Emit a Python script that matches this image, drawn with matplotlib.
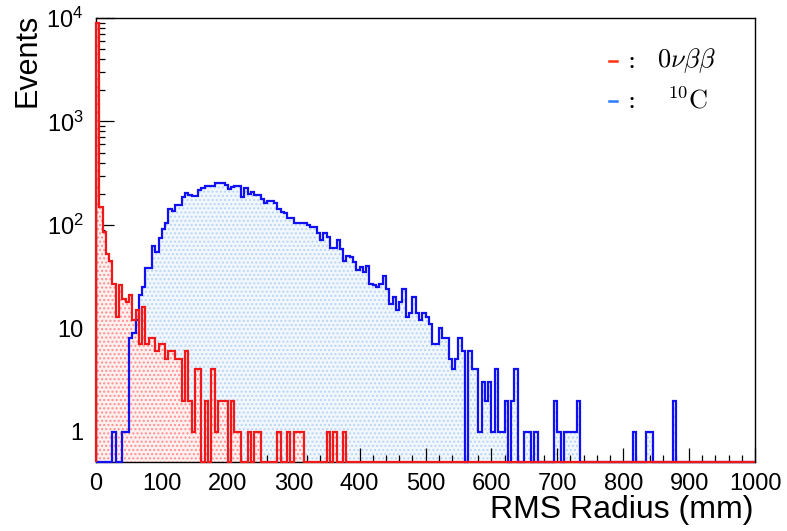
import numpy as np
import matplotlib
matplotlib.use('Agg')
import matplotlib.pyplot as plt
from matplotlib.lines import Line2D
from matplotlib.ticker import FixedLocator, MultipleLocator, LogLocator, NullFormatter

plt.rcParams['font.family'] = ['Liberation Sans', 'DejaVu Sans']

# histogram binning: 5 mm bins from 0 to 1000 mm
bin_width = 5
n_bins = 200
edges = np.arange(0, 1000 + bin_width, bin_width)

# 0vbb counts per bin (zero beyond)
red_counts = [9000, 150, 85, 52, 45, 27, 13, 26, 19, 18,
              21, 12, 15, 7, 16, 7, 8, 8, 6, 7,
              7, 5, 6, 6, 5, 5, 2, 6, 2, 1,
              4, 4, 0, 2, 0, 4, 1, 2, 2, 2,
              0, 2, 1, 1, 0, 0, 1, 0, 1, 1,
              0, 0, 0, 0, 0, 1, 0, 0, 1, 0,
              1, 1, 1, 0, 0, 0, 0, 0, 0, 0,
              1, 0, 1, 0, 0, 1]

# 10C counts per bin
blue_counts = [0, 0, 0, 0, 0, 1, 0, 0, 1, 1,
               8, 9, 12, 21, 25, 38, 38, 62, 55, 75,
               91, 105, 143, 137, 156, 156, 188, 203, 195, 191,
               191, 215, 225, 235, 235, 240, 254, 254, 254, 244,
               220, 232, 240, 240, 185, 227, 200, 206, 195, 195,
               177, 164, 170, 170, 164, 142, 132, 130, 117, 117,
               105, 104, 104, 104, 100, 95, 95, 83, 72, 83,
               77, 60, 60, 72, 58, 45, 50, 49, 44, 37,
               39, 35, 40, 27, 26, 25, 27, 32, 24, 17,
               20, 15, 18, 24, 13, 14, 20, 14, 12, 14,
               13, 11, 7, 7, 10, 8, 8, 5, 4, 5,
               8, 6, 0, 6, 4, 4, 1, 3, 2, 3,
               1, 4, 1, 1, 2, 0, 2, 4, 0, 0,
               1, 1, 0, 1, 0, 0, 0, 0, 0, 2,
               1, 0, 1, 1, 1, 1, 2, 0, 0, 0,
               0, 0, 0, 0, 0, 0, 0, 0, 0, 0,
               0, 0, 0, 1, 0, 0, 0, 1, 1, 0,
               0, 0, 0, 0, 0, 2]

y_ticks = [1, 10, 100, 1000, 10000]
y_tick_labels = ['1', '10', r'$\mathregular{10^{2}}$', r'$\mathregular{10^{3}}$', r'$\mathregular{10^{4}}$']
x_ticks = [0, 100, 200, 300, 400, 500, 600, 700, 800, 900, 1000]

ymin, ymax = 0.51, 10000

def full(counts):
    h = np.zeros(n_bins)
    h[:len(counts)] = counts
    # empty bins sit on the bottom of the log axis, as in ROOT
    return np.where(h > 0, h, ymin)

red = full(red_counts)
blue = full(blue_counts)

fig = plt.figure(figsize=(7.87, 5.31), dpi=100)
ax = fig.add_axes([96/787, 1 - 462/531, (755 - 96)/787, (462 - 18)/531])

# dotted fills
ax.stairs(blue, edges, baseline=ymin, fill=True, facecolor='#f1f7fd',
          edgecolor='#b9d6f5', hatch='....', lw=0, zorder=1)
ax.stairs(red, edges, baseline=ymin, fill=True, facecolor='#fff0f0',
          edgecolor='#ff9090', hatch='....', lw=0, zorder=2)
# outlines (not clipped so the empty bins show along the bottom frame)
ax.stairs(blue, edges, baseline=ymin, color='#1010f0', lw=1.6, zorder=6, clip_on=False)
ax.stairs(red, edges, baseline=ymin, color='#f01818', lw=1.6, zorder=7, clip_on=False)

ax.set_yscale('log')
ax.set_xlim(0, 1000)
ax.set_ylim(ymin, ymax)

ax.xaxis.set_major_locator(FixedLocator(x_ticks))
ax.xaxis.set_minor_locator(MultipleLocator(20))
ax.set_xticklabels([str(t) for t in x_ticks])
ax.yaxis.set_major_locator(FixedLocator(y_ticks))
ax.yaxis.set_minor_locator(LogLocator(base=10, subs=np.arange(2, 10)))
ax.yaxis.set_minor_formatter(NullFormatter())
ax.set_yticklabels(y_tick_labels)

ax.tick_params(axis='both', which='both', direction='in', top=False, right=False,
               width=0.9, colors='black', labelsize=17)
ax.tick_params(axis='x', which='major', length=10, pad=8)
ax.tick_params(axis='x', which='minor', length=5)
ax.tick_params(axis='y', which='major', length=13, pad=9)
ax.tick_params(axis='y', which='minor', length=6.5)
for s in ax.spines.values():
    s.set_linewidth(1.0)
    s.set_zorder(5)

fig.text(753/787, 1 - 510/531, 'RMS Radius (mm)', ha='right', va='center', fontsize=23)
fig.text(27/787, 1 - 14/531, 'Events', rotation=90, ha='center', va='top', fontsize=22)

# legend, ROOT TLatex style
fig.add_artist(Line2D([609/787, 617/787], [1 - 61/531, 1 - 61/531], color='#ff3010', lw=1.8))
fig.add_artist(Line2D([609/787, 617/787], [1 - 101/531, 1 - 101/531], color='#2a7cff', lw=1.8))
fig.text(632/787, 1 - 62/531, ':', ha='center', va='center', fontsize=17, family='DejaVu Serif')
fig.text(632/787, 1 - 102/531, ':', ha='center', va='center', fontsize=17, family='DejaVu Serif')
fig.text(657/787, 1 - 61/531, r'$0\nu\beta\beta$', ha='left', va='center', fontsize=19,
         math_fontfamily='cm')
fig.text(667/787, 1 - 100/531, r'$^{10}\mathrm{C}$', ha='left', va='center', fontsize=19,
         math_fontfamily='cm')

fig.savefig('out.png', dpi=100)
